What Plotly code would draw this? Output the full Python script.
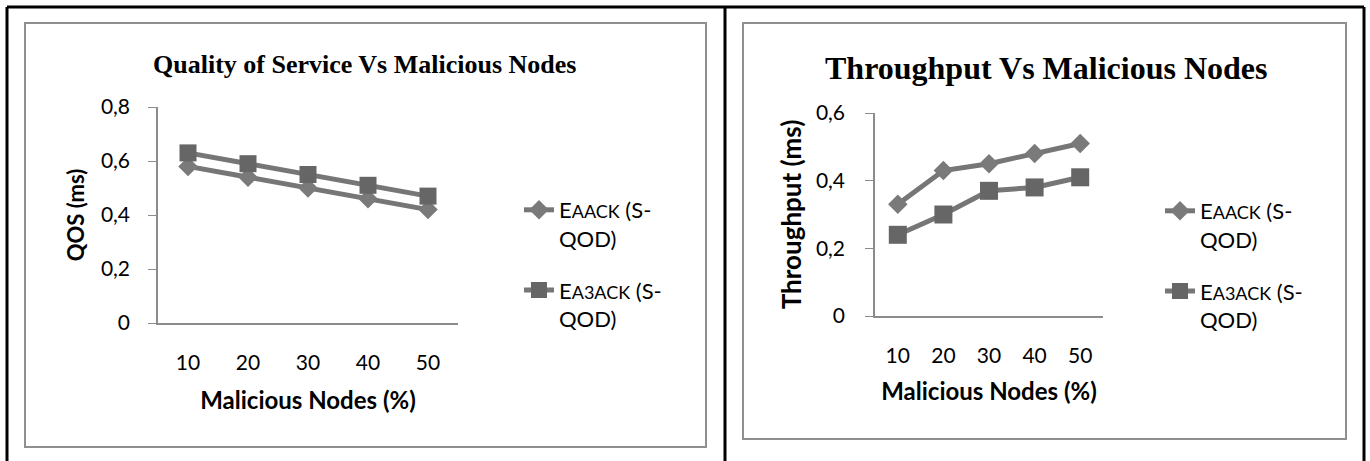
import plotly.graph_objects as go

# Daten
nodes = ["10", "20", "30", "40", "50"]
qos_eaack = [0.58, 0.54, 0.50, 0.46, 0.42]
qos_ea3ack = [0.63, 0.59, 0.55, 0.51, 0.47]
thr_eaack = [0.33, 0.43, 0.45, 0.48, 0.51]
thr_ea3ack = [0.24, 0.30, 0.37, 0.38, 0.41]
qos_ticks = [0, 0.2, 0.4, 0.6, 0.8]
qos_labels = ["0", "0,2", "0,4", "0,6", "0,8"]
thr_ticks = [0, 0.2, 0.4, 0.6]
thr_labels = ["0", "0,2", "0,4", "0,6"]

W, H = 1370, 461
name_eaack = "E<span style='font-size:18px'>AACK</span> (S-<br>QOD)"
name_ea3ack = "E<span style='font-size:18px'>A3ACK</span> (S-<br>QOD)"

LINE = "#767676"
FONT = "Lato"


def px(x):
    return x / W


def py(y):
    return 1 - y / H


fig = go.Figure()

# linkes Diagramm: QOS
fig.add_trace(go.Scatter(x=nodes, y=qos_eaack, mode="lines+markers", name=name_eaack,
                         line=dict(color=LINE, width=5), marker=dict(symbol="diamond", size=15, color="#7a7a7a"),
                         xaxis="x", yaxis="y", legend="legend", legendgroup="a"))
fig.add_trace(go.Scatter(x=nodes, y=qos_ea3ack, mode="lines+markers", name=name_ea3ack,
                         line=dict(color=LINE, width=5), marker=dict(symbol="square", size=17, color="#666666"),
                         xaxis="x", yaxis="y", legend="legend", legendgroup="b"))

# rechtes Diagramm: Throughput
fig.add_trace(go.Scatter(x=nodes, y=thr_eaack, mode="lines+markers", name=name_eaack,
                         line=dict(color=LINE, width=5), marker=dict(symbol="diamond", size=15, color="#7a7a7a"),
                         xaxis="x2", yaxis="y2", legend="legend2", legendgroup="c"))
fig.add_trace(go.Scatter(x=nodes, y=thr_ea3ack, mode="lines+markers", name=name_ea3ack,
                         line=dict(color=LINE, width=5), marker=dict(symbol="square", size=18, color="#666666"),
                         xaxis="x2", yaxis="y2", legend="legend2", legendgroup="d"))

axis_common = dict(showgrid=False, zeroline=False, showline=True, linecolor="#8c8c8c", linewidth=1.5,
                   automargin=False, tickfont=dict(family=FONT, size=21, color="black"))

xaxis_style = dict(axis_common, type="category", range=[-0.5, 4.5], ticks="",
                   title=dict(text="<b>Malicious Nodes (%)</b>", font=dict(family=FONT, size=24, color="black")))

legend_style = dict(font=dict(family=FONT, size=22, color="black"), bgcolor="rgba(0,0,0,0)",
                    xanchor="left", yanchor="top", valign="top", traceorder="grouped", tracegroupgap=20)

fig.update_layout(
    width=W, height=H,
    margin=dict(l=0, r=0, t=0, b=0, pad=0, autoexpand=False),
    paper_bgcolor="white", plot_bgcolor="white",
    xaxis=dict(xaxis_style, domain=[px(158), px(458)], anchor="y", ticklabelstandoff=20,
               title_standoff=19),
    yaxis=dict(axis_common, domain=[py(323), py(107)], range=[0, 0.8], tickvals=qos_ticks, ticktext=qos_labels,
               ticks="outside", ticklen=8, tickcolor="#8c8c8c", ticklabelstandoff=14, anchor="x",
               title=dict(text="<b>QOS (ms)</b>", font=dict(family=FONT, size=22, color="black"), standoff=10)),
    xaxis2=dict(xaxis_style, domain=[px(875), px(1103)], anchor="y2", ticklabelstandoff=20,
                title_standoff=17),
    yaxis2=dict(axis_common, domain=[py(316), py(113)], range=[0, 0.6], tickvals=thr_ticks, ticktext=thr_labels,
                ticks="outside", ticklen=8, tickcolor="#8c8c8c", ticklabelstandoff=16, anchor="x2",
                title=dict(text="<b>Throughput (ms)</b>", font=dict(family=FONT, size=26, color="black"), standoff=7)),
    legend=dict(legend_style, x=px(519), y=py(189)),
    legend2=dict(legend_style, x=px(1160), y=py(190)),
    showlegend=True,
)

# Titel
fig.add_annotation(text="<b>Quality of Service Vs Malicious Nodes</b>", x=px(364), y=py(65), xref="paper", yref="paper",
                   xanchor="center", yanchor="middle", showarrow=False,
                   font=dict(family="Liberation Serif", size=26, color="black"))
fig.add_annotation(text="<b>Throughput Vs Malicious Nodes</b>", x=px(1046), y=py(68), xref="paper", yref="paper",
                   xanchor="center", yanchor="middle", showarrow=False,
                   font=dict(family="Liberation Serif", size=32, color="black"))

# Rahmen (Tabelle + Diagrammflächen)
black = dict(color="black", width=3)
for x0, y0, x1, y1 in [(7, 7, 1364, 7), (7, 7, 7, 461), (725, 7, 725, 461), (1364, 7, 1364, 461)]:
    fig.add_shape(type="line", xref="paper", yref="paper", x0=px(x0), y0=py(y0), x1=px(x1), y1=py(y1), line=black)
gray = dict(color="#8f8f8f", width=2)
fig.add_shape(type="rect", xref="paper", yref="paper", x0=px(25), y0=py(447), x1=px(706), y1=py(23), line=gray)
fig.add_shape(type="rect", xref="paper", yref="paper", x0=px(743), y0=py(439), x1=px(1346), y1=py(23), line=gray)

fig.write_html("out.html", config={"displayModeBar": False},
               post_script="document.body.style.margin='0';")
